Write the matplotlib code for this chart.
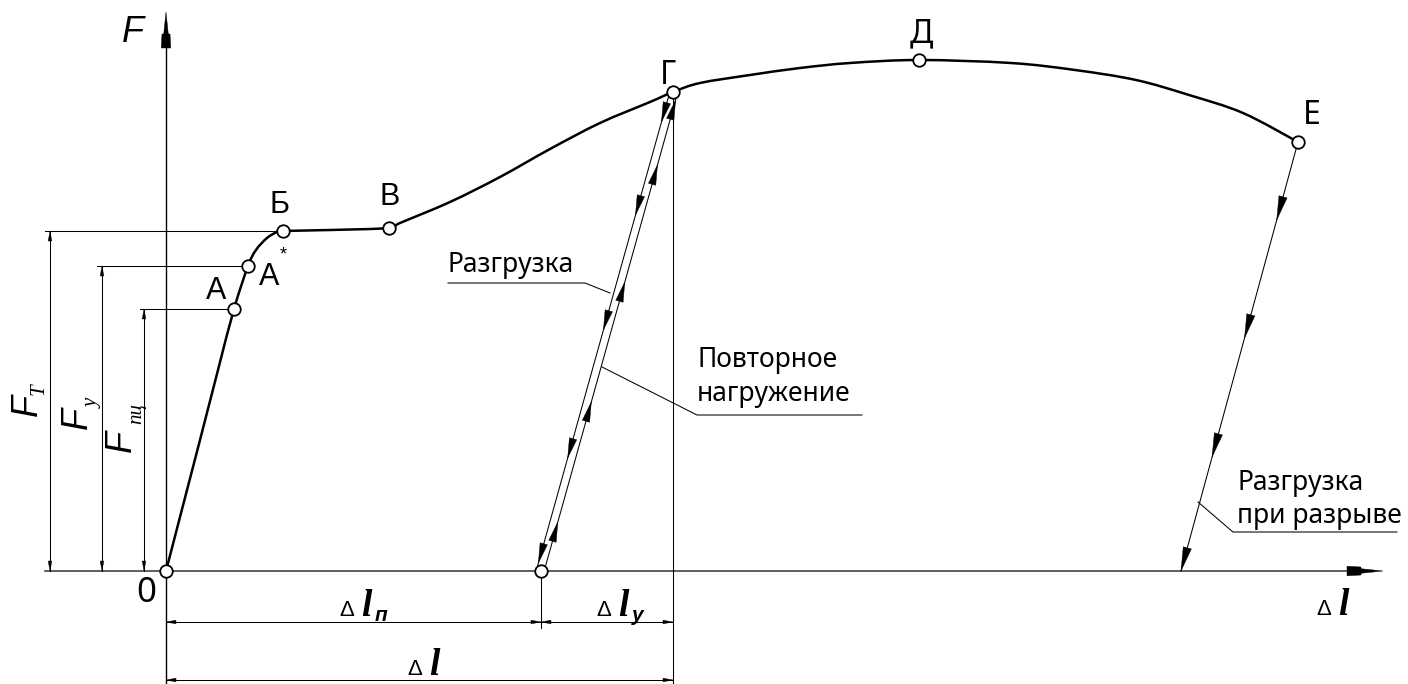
import numpy as np
import matplotlib.pyplot as plt
from matplotlib.patches import Polygon, PathPatch
from matplotlib.path import Path

plt.rcParams['font.family'] = ['Noto Sans', 'DejaVu Sans']

# Диаграмма растяжения: удлинение dl и нагрузка F (в единицах чертежа)
dl = [0, 14, 34, 52, 68, 82, 90, 101, 111, 117, 164, 223, 234, 284, 334, 384, 434, 484, 507,
      534, 584, 634, 684, 753, 845, 909, 970, 1023, 1077, 1132]
F = [0, 54, 131, 201, 262, 305, 321, 333, 339, 340, 341, 343, 348, 369, 394, 422, 448, 469, 479,
     488, 496, 503, 508, 511, 508, 501, 491, 476, 458, 429]

# характерные точки диаграммы (индексы в dl/F)
point_idx = {'0': 0, 'А': 4, 'А*': 5, 'Б': 9, 'В': 11, 'Г': 18, 'Д': 23, 'Е': 29}

dl_residual = 375   # остаточное удлинение после разгрузки из точки Г
dl_break = 1015     # конец линии разгрузки при разрыве

# уровни F, на которых стоят стрелки направления
unload_arrows = [449, 356, 241, 113, 8]
reload_arrows = [471, 406, 289, 169, 49]
break_arrows = [351, 233, 114, 0]

fig = plt.figure(figsize=(14.08, 6.84), dpi=100)
ax = fig.add_axes([0, 0, 1, 1])
ax.set_xlim(-166, 1242)
ax.set_ylim(-113, 571)
ax.axis('off')

THIN = 0.75
K = 'black'


def smooth_path(xs, ys):
    # гладкая кривая через точки (кубические Безье, касательные Катмулла-Рома)
    p = np.column_stack([xs, ys]).astype(float)
    verts = [p[0]]
    codes = [Path.MOVETO]
    n = len(p)
    for i in range(n - 1):
        p0 = p[i - 1] if i > 0 else p[i]
        p3 = p[i + 2] if i + 2 < n else p[i + 1]
        c1 = p[i] + (p[i + 1] - p0) / 6
        c2 = p[i + 1] - (p3 - p[i]) / 6
        verts += [c1, c2, p[i + 1]]
        codes += [Path.CURVE4] * 3
    return Path(verts, codes)


def head(x, y, ux, uy, length=20, width=3.8):
    n = np.hypot(ux, uy)
    ux, uy = ux / n, uy / n
    bx, by = x - ux * length, y - uy * length
    px, py = -uy * width, ux * width
    ax.add_patch(Polygon([(x, y), (bx + px, by + py), (bx - px, by - py)],
                         closed=True, fc=K, ec=K, lw=0.3, zorder=4))


def axis_head(x, y, ux, uy):
    # ступенчатая стрелка на конце оси
    px, py = -uy, ux
    pts = [(x, y)]
    for d, w in [(22, 2.3), (22, 4.0), (36, 4.8)]:
        pts.append((x - ux * d + px * w, y - uy * d + py * w))
    for d, w in [(36, 4.8), (22, 4.0), (22, 2.3)]:
        pts.append((x - ux * d - px * w, y - uy * d - py * w))
    ax.add_patch(Polygon(pts, closed=True, fc=K, ec=K, lw=0.3, zorder=4))


def on_line(p0, p1, f):
    t = (f - p0[1]) / (p1[1] - p0[1])
    return p0[0] + t * (p1[0] - p0[0]), f


# оси
ax.plot([-121, 1195], [0, 0], color='#333333', lw=1.1)
axis_head(1217, 0, 1, 0)
ax.plot([0, 0], [-113, 540], color=K, lw=1.0)
axis_head(0, 559, 0, 1)

# основная кривая
ax.add_patch(PathPatch(smooth_path(dl, F), fc='none', ec=K, lw=1.8, zorder=3))

# разгрузка из Г и повторное нагружение
g = (dl[point_idx['Г']], F[point_idx['Г']])
res = (dl_residual, 0)
off = 4
un0, un1 = (g[0] - off, g[1] - 3), (res[0] - off, res[1] + 3)
re0, re1 = (res[0] + off, res[1] + 3), (g[0] + off, g[1] - 3)
ax.plot([un0[0], un1[0]], [un0[1], un1[1]], color=K, lw=THIN)
ax.plot([re0[0], re1[0]], [re0[1], re1[1]], color=K, lw=THIN)
for f in unload_arrows:
    x, y = on_line(un0, un1, f)
    head(x, y, un1[0] - un0[0], un1[1] - un0[1])
for f in reload_arrows:
    x, y = on_line(re0, re1, f)
    head(x, y, re1[0] - re0[0], re1[1] - re0[1])

# разгрузка при разрыве из Е
e = (dl[point_idx['Е']], F[point_idx['Е']])
ax.plot([e[0], dl_break], [e[1], 0], color=K, lw=THIN)
for f in break_arrows:
    x, y = on_line(e, (dl_break, 0), f)
    head(x, y, dl_break - e[0], -e[1], length=24, width=4.2)

# точки
for name, i in point_idx.items():
    ax.plot(dl[i], F[i], 'o', ms=9, mfc='white', mec=K, mew=1.3, zorder=5)
ax.plot(res[0], res[1], 'o', ms=9, mfc='white', mec=K, mew=1.3, zorder=5)

# размеры по оси F
dims_F = [('А', -22, -26, 'пц'), ('А*', -64, -69, 'у'), ('Б', -116, -121, 'Т')]
lab_F = {'пц': ((-45, 130), (-29, 157)), 'у': ((-89, 153), (-73, 168)), 'Т': ((-139, 166), (-127, 182))}
for name, xd, xs, sub in dims_F:
    i = point_idx[name]
    ax.plot([xs, dl[i]], [F[i], F[i]], color=K, lw=THIN)
    ax.plot([xd, xd], [0, F[i]], color=K, lw=THIN)
    head(xd, F[i], 0, 1, length=10, width=1.8)
    head(xd, 0, 0, -1, length=10, width=1.8)
    (fx, fy), (sx, sy) = lab_F[sub]
    ax.text(fx, fy, 'F', rotation=90, ha='center', va='center', fontsize=26,
            family='Liberation Sans', style='italic')
    ax.text(sx, sy, sub, rotation=90, ha='center', va='center', fontsize=15,
            family='Liberation Serif', style='italic')

# размеры по оси удлинений
ax.plot([res[0], res[0]], [0, -57], color=K, lw=THIN)
ax.plot([g[0], g[0]], [g[1], -113], color=K, lw=THIN)
for y, x0, x1 in [(-51, 0, dl_residual), (-51, dl_residual, g[0]), (-109, 0, g[0])]:
    ax.plot([x0, x1], [y, y], color=K, lw=THIN)
    head(x0, y, -1, 0, length=10, width=1.8)
    head(x1, y, 1, 0, length=10, width=1.8)


def dl_text(x, y, sub=None):
    ax.text(x, y, 'Δ', fontsize=16, family='Liberation Sans', va='baseline')
    ax.text(x + 22, y, 'l', fontsize=27, family='Liberation Serif', style='italic',
            weight='bold', va='baseline')
    if sub:
        ax.text(x + 36, y - 5, sub, fontsize=15, family='Liberation Sans',
                style='italic', weight='bold', va='baseline')


dl_text(173, -45, 'п')
dl_text(430, -45, 'у')
dl_text(241, -104)
dl_text(1150, -44)

# подписи точек
lbl = dict(ha='center', va='center', fontsize=22, family='Liberation Sans')
ax.text(50, 280, 'А', **lbl)
ax.text(103, 294, 'А', **lbl)
ax.text(117, 316, '*', ha='center', va='center', fontsize=13, family='Liberation Sans')
ax.text(114, 366, 'Б', **lbl)
ax.text(224, 374, 'В', **lbl)
tech = dict(ha='center', va='center', fontsize=23)
ax.text(502, 495, 'Г', **tech)
ax.text(755, 537, 'Д', **tech)
ax.text(1146, 456, 'Е', **tech)
ax.text(-20, -22, '0', ha='center', va='center', fontsize=25)
ax.text(-33, 538, 'F', ha='center', va='center', fontsize=26,
        family='Liberation Sans', style='italic')

# выноски
note = dict(fontsize=19, va='baseline')
ax.text(282, 299, 'Разгрузка', **note)
ax.plot([282, 419, 444], [288, 288, 278], color=K, lw=THIN)

ax.text(531, 204, 'Повторное', **note)
ax.text(531, 170, 'нагружение', **note)
ax.plot([696, 531, 436], [156, 156, 204], color=K, lw=THIN)

ax.text(1071, 81, 'Разгрузка', **note)
ax.text(1071, 48, 'при разрыве', **note)
ax.plot([1231, 1067, 1032], [39, 39, 69], color=K, lw=THIN)

fig.savefig('out.png', dpi=100)
